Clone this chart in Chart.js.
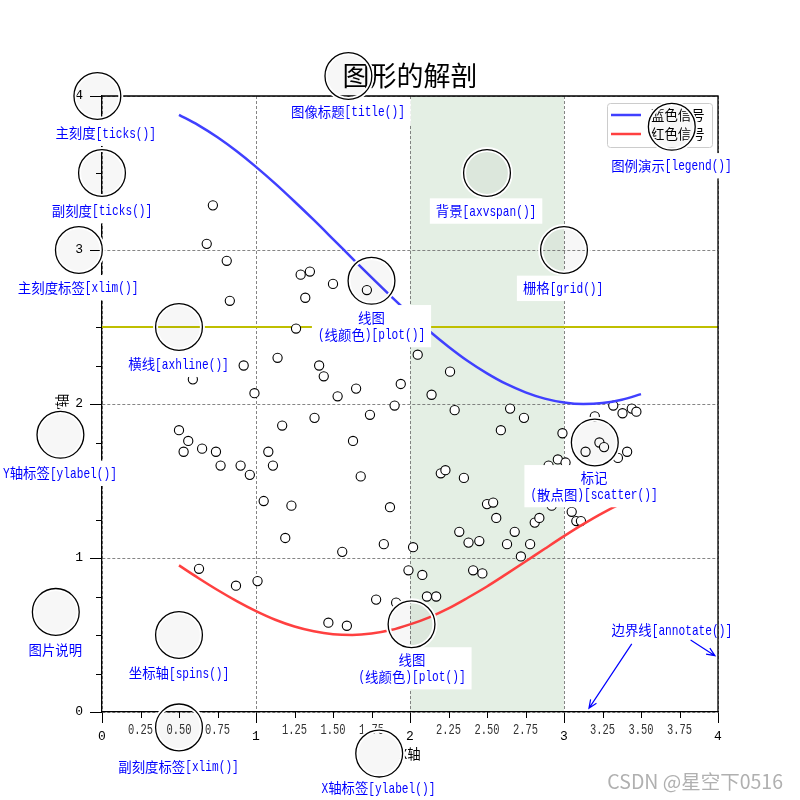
<!DOCTYPE html>
<html>
<head>
<meta charset="utf-8">
<script src="https://cdn.jsdelivr.net/npm/chart.js@4.4.1/dist/chart.umd.min.js"></script>
<style>html,body{margin:0;padding:0;background:#fff}</style>
</head>
<body>
<canvas id="myChart" width="800" height="800"></canvas>
<script>
var CJK = '"Noto Sans CJK SC"';
var MONO = '"Liberation Mono"';

// curves, every 0.125
var lineX = [0.5, 0.625, 0.75, 0.875, 1.0, 1.125, 1.25, 1.375, 1.5, 1.625, 1.75, 1.875, 2.0,
  2.125, 2.25, 2.375, 2.5, 2.625, 2.75, 2.875, 3.0, 3.125, 3.25, 3.375, 3.5];
var blueY = [3.878, 3.811, 3.732, 3.641, 3.540, 3.431, 3.315, 3.195, 3.071, 2.946, 2.822, 2.701, 2.584,
  2.474, 2.372, 2.279, 2.199, 2.130, 2.076, 2.035, 2.010, 2.000, 2.006, 2.027, 2.064];
var redY = [0.952, 0.870, 0.792, 0.720, 0.655, 0.599, 0.555, 0.524, 0.505, 0.500, 0.509, 0.532, 0.569,
  0.615, 0.673, 0.742, 0.815, 0.895, 0.977, 1.060, 1.142, 1.220, 1.292, 1.354, 1.408];

// scatter markers
var scatterX = [0.72, 0.68, 0.81, 1.29, 1.35, 1.50, 1.72, 0.83, 1.32, 1.26, 1.14, 0.92, 1.41, 1.44, 0.59, 1.65,
  0.99, 1.53, 1.90, 1.94, 1.38, 1.74, 1.17, 0.50, 0.56, 1.63, 0.53, 0.65, 0.74, 1.08, 0.77, 0.90, 1.11, 0.96,
  1.68, 1.05, 1.23, 1.87, 1.19, 1.83, 1.56, 0.63, 0.87, 1.01, 1.78, 1.91, 1.47, 1.59, 2.05, 2.26, 2.14, 2.29,
  2.65, 2.74, 2.59, 2.99, 3.32, 3.38, 3.44, 3.47, 3.20, 3.23, 3.26, 3.14, 3.35, 3.41, 2.90, 2.96, 3.01, 2.20,
  2.23, 2.35, 2.50, 2.54, 2.56, 2.92, 3.05, 3.08, 3.11, 2.81, 2.84, 2.32, 2.38, 2.45, 2.68, 2.63, 2.78, 2.72,
  2.02, 1.99, 2.08, 2.41, 2.47, 2.11, 2.17];
var scatterY = [3.29, 3.04, 2.93, 2.84, 2.86, 2.78, 2.74, 2.67, 2.69, 2.49, 2.30, 2.25, 2.25, 2.18, 2.16, 2.10,
  2.07, 2.05, 1.99, 2.13, 1.91, 1.93, 1.86, 1.83, 1.76, 1.76, 1.69, 1.71, 1.69, 1.69, 1.60, 1.60, 1.60, 1.54,
  1.53, 1.37, 1.34, 1.33, 1.13, 1.09, 1.04, 0.93, 0.82, 0.85, 0.73, 0.71, 0.58, 0.56, 2.32, 2.21, 2.06, 1.96,
  1.97, 1.91, 1.83, 1.81, 1.99, 1.94, 1.97, 1.95, 1.92, 1.75, 1.72, 1.69, 1.65, 1.69, 1.60, 1.64, 1.62, 1.55,
  1.57, 1.52, 1.35, 1.36, 1.26, 1.34, 1.30, 1.24, 1.24, 1.23, 1.26, 1.17, 1.10, 1.11, 1.17, 1.09, 1.09, 1.01,
  1.07, 0.92, 0.89, 0.92, 0.90, 0.75, 0.75];

var hlineY = 2.5;
var spanStart = 2, spanEnd = 3;

// ticks
var xMajorTicks = [0, 1, 2, 3, 4];
var xMajorLabels = ['0', '1', '2', '3', '4'];
var xMinorTicks = [0.25, 0.5, 0.75, 1.25, 1.5, 1.75, 2.25, 2.5, 2.75, 3.25, 3.5, 3.75];
var xMinorLabels = ['0.25', '0.50', '0.75', '1.25', '1.50', '1.75', '2.25', '2.50', '2.75', '3.25', '3.50', '3.75'];
var yMajorTicks = [0, 1, 2, 3, 4];
var yMajorLabels = ['0', '1', '2', '3', '4'];
var yMinorTicks = [0.25, 0.5, 0.75, 1.25, 1.5, 1.75, 2.25, 2.5, 2.75, 3.25, 3.5, 3.75];

// annotation circles and texts, in data units
var circles = [[-0.03, 4.0], [0.0, 3.5], [-0.15, 3.0], [0.5, 2.5], [-0.27, 1.8], [-0.3, 0.65],
  [0.5, 0.5], [0.5, -0.1], [1.8, -0.27], [1.6, 4.13], [1.75, 2.8], [2.01, 0.57],
  [2.5, 3.5], [3.0, 3.0], [3.7, 3.8], [3.2, 1.75]];
var labels = [
  {x: 0.024, y: 3.758, t: ['主刻度[ticks()]']},
  {x: 0.0, y: 3.255, t: ['副刻度[ticks()]']},
  {x: -0.155, y: 2.755, t: ['主刻度标签[xlim()]']},
  {x: 0.497, y: 2.258, t: ['横线[axhline()]']},
  {x: -0.273, y: 1.55, t: ['Y轴标签[ylabel()]']},
  {x: -0.303, y: 0.403, t: ['图片说明']},
  {x: 0.5, y: 0.251, t: ['坐标轴[spins()]']},
  {x: 0.497, y: -0.355, t: ['副刻度标签[xlim()]']},
  {x: 1.795, y: -0.494, t: ['X轴标签[ylabel()]']},
  {x: 1.597, y: 3.898, t: ['图像标题[title()]']},
  {x: 1.75, y: 2.56, t: ['线图', '(线颜色)[plot()]']},
  {x: 2.013, y: 0.338, t: ['线图', '(线颜色)[plot()]']},
  {x: 2.494, y: 3.253, t: ['背景[axvspan()]']},
  {x: 2.994, y: 2.751, t: ['栅格[grid()]']},
  {x: 3.698, y: 3.547, t: ['图例演示[legend()]']},
  {x: 3.195, y: 1.521, t: ['标记', '(散点图)[scatter()]']}
];
var annotText = {x: 3.70, y: 0.532, t: '边界线[annotate()]'};
var arrows = [[[3.44, 0.442], [3.162, 0.024]], [[3.822, 0.468], [3.98, 0.366]]];

function charW(ctx, ch, size) {
  if (ch.charCodeAt(0) < 128) return size * 0.5;
  ctx.font = size + 'px ' + CJK;
  return ctx.measureText(ch).width;
}
function mixedWidth(ctx, text, size) {
  var w = 0;
  for (var ch of text) w += charW(ctx, ch, size);
  return w;
}
// SimHei-like: half width ascii, full width CJK
function drawMixed(ctx, text, cx, cy, size, color) {
  var x = cx - mixedWidth(ctx, text, size) / 2;
  var asz = size * 1.12;
  ctx.fillStyle = color;
  ctx.textBaseline = 'middle';
  ctx.textAlign = 'left';
  for (var ch of text) {
    var w = charW(ctx, ch, size);
    if (ch.charCodeAt(0) < 128) {
      ctx.save();
      ctx.translate(x + w / 2, cy + 0.5);
      ctx.scale(w / (0.6 * asz), 1);
      ctx.font = asz + 'px ' + MONO;
      ctx.textAlign = 'center';
      ctx.fillText(ch, 0, 0);
      ctx.restore();
    } else {
      ctx.font = size + 'px ' + CJK;
      ctx.fillText(ch, x, cy);
    }
    x += w;
  }
}

var anatomy = {
  id: 'anatomy',
  beforeDraw: function (chart) {
    var c = chart.ctx, a = chart.chartArea, xs = chart.scales.x;
    c.save();
    c.fillStyle = '#fff';
    c.fillRect(0, 0, chart.width, chart.height);
    var x1 = xs.getPixelForValue(spanStart), x2 = xs.getPixelForValue(spanEnd);
    c.fillStyle = '#e4efe4';
    c.fillRect(x1, a.top, x2 - x1, a.bottom - a.top);
    c.restore();
  },
  afterDatasetsDraw: function (chart) {
    var c = chart.ctx, a = chart.chartArea, xs = chart.scales.x, ys = chart.scales.y;
    c.save();
    c.strokeStyle = '#000';
    c.lineWidth = 1.3;
    c.beginPath();
    c.moveTo(a.left, a.top); c.lineTo(a.right, a.top); c.lineTo(a.right, a.bottom);
    c.stroke();
    // minor ticks
    c.lineWidth = 1;
    c.beginPath();
    xMinorTicks.forEach(function (v) {
      var px = Math.round(xs.getPixelForValue(v)) + 0.5;
      c.moveTo(px, a.bottom); c.lineTo(px, a.bottom + 6);
    });
    yMinorTicks.forEach(function (v) {
      var py = Math.round(ys.getPixelForValue(v)) + 0.5;
      c.moveTo(a.left, py); c.lineTo(a.left - 6, py);
    });
    c.stroke();
    xMinorTicks.forEach(function (v, i) {
      drawMixed(c, xMinorLabels[i], xs.getPixelForValue(v), a.bottom + 17.5, 12.5, '#333');
    });
    // legend
    var bw = 105, bh = 44, bx = a.right - 6 - bw, by = a.top + 7;
    c.fillStyle = 'rgba(255,255,255,0.85)';
    c.strokeStyle = '#cccccc';
    c.lineWidth = 1;
    c.beginPath();
    c.roundRect(bx + 0.5, by + 0.5, bw, bh, 3);
    c.fill(); c.stroke();
    chart.data.datasets.slice(0, 2).forEach(function (ds, i) {
      var ly = by + 12 + i * 19;
      c.strokeStyle = ds.borderColor;
      c.lineWidth = 2.5;
      c.beginPath(); c.moveTo(bx + 4, ly); c.lineTo(bx + 34, ly); c.stroke();
      c.fillStyle = '#000';
      c.font = '13.4px ' + CJK;
      c.textAlign = 'left';
      c.textBaseline = 'middle';
      c.fillText(ds.label, bx + 44, ly);
    });
    c.restore();
  },
  afterDraw: function (chart) {
    var c = chart.ctx, xs = chart.scales.x, ys = chart.scales.y;
    var size = 13.4, gap = 16.8, pad = 6;
    c.save();
    labels.forEach(function (l) {
      var cx = xs.getPixelForValue(l.x), cy = ys.getPixelForValue(l.y);
      var w = 0;
      l.t.forEach(function (s) { w = Math.max(w, mixedWidth(c, s, size)); });
      var top = cy - size / 2 - pad, bottom = cy + (l.t.length - 1) * gap + size / 2 + pad;
      c.fillStyle = '#fff';
      c.fillRect(cx - w / 2 - pad, top, w + 2 * pad, bottom - top);
      l.t.forEach(function (s, i) { drawMixed(c, s, cx, cy + i * gap, size, '#0000ff'); });
    });
    var r = xs.getPixelForValue(0.152) - xs.getPixelForValue(0);
    circles.forEach(function (p) {
      var px = xs.getPixelForValue(p[0]), py = ys.getPixelForValue(p[1]);
      c.beginPath();
      c.arc(px, py, r, 0, Math.PI * 2);
      c.fillStyle = 'rgba(0,0,0,0.03)';
      c.fill();
      c.strokeStyle = '#fff'; c.lineWidth = 5; c.stroke();
      c.strokeStyle = '#000'; c.lineWidth = 1.3; c.stroke();
    });
    drawMixed(c, annotText.t, xs.getPixelForValue(annotText.x), ys.getPixelForValue(annotText.y), size, '#0000ff');
    c.strokeStyle = '#0000ff';
    c.lineWidth = 1.2;
    arrows.forEach(function (ar) {
      var x1 = xs.getPixelForValue(ar[0][0]), y1 = ys.getPixelForValue(ar[0][1]);
      var x2 = xs.getPixelForValue(ar[1][0]), y2 = ys.getPixelForValue(ar[1][1]);
      var ang = Math.atan2(y2 - y1, x2 - x1), h = 9;
      c.beginPath();
      c.moveTo(x1, y1); c.lineTo(x2, y2);
      c.moveTo(x2 - h * Math.cos(ang - 0.4), y2 - h * Math.sin(ang - 0.4));
      c.lineTo(x2, y2);
      c.lineTo(x2 - h * Math.cos(ang + 0.4), y2 - h * Math.sin(ang + 0.4));
      c.stroke();
    });
    c.font = '19.5px ' + CJK;
    c.fillStyle = '#b0b0b0';
    c.textAlign = 'right';
    c.textBaseline = 'middle';
    c.fillText('CSDN @星空下0516', chart.width - 17, chart.height - 18);
    c.restore();
  }
};

var ctx = document.getElementById('myChart').getContext('2d');

var myChart = new Chart(ctx, {
  type: 'scatter',
  data: {
    datasets: [{
      type: 'line',
      label: '蓝色信号',
      data: lineX.map(function (x, i) { return {x: x, y: blueY[i]}; }),
      borderColor: 'rgb(64,64,255)',
      borderWidth: 2.5,
      pointRadius: 0,
      tension: 0.4,
      cubicInterpolationMode: 'monotone',
      fill: false,
      order: 0
    }, {
      type: 'line',
      label: '红色信号',
      data: lineX.map(function (x, i) { return {x: x, y: redY[i]}; }),
      borderColor: 'rgb(255,64,64)',
      borderWidth: 2.5,
      pointRadius: 0,
      tension: 0.4,
      cubicInterpolationMode: 'monotone',
      fill: false,
      order: 0
    }, {
      label: '散点',
      data: scatterX.map(function (x, i) { return {x: x, y: scatterY[i]}; }),
      backgroundColor: '#fff',
      borderColor: '#000',
      borderWidth: 1.1,
      pointRadius: 4.6,
      order: 1
    }, {
      type: 'line',
      label: '横线',
      data: [{x: 0, y: hlineY}, {x: 4, y: hlineY}],
      borderColor: '#bfbf00',
      borderWidth: 2,
      pointRadius: 0,
      fill: false,
      order: 2
    }]
  },
  options: {
    responsive: false,
    animation: false,
    devicePixelRatio: 1,
    events: [],
    layout: {padding: {left: 0, top: 0, right: 82, bottom: 0}},
    plugins: {
      legend: {display: false},
      tooltip: {enabled: false},
      title: {
        display: true,
        text: '图形的解剖',
        fullSize: false,
        color: '#000',
        font: {family: CJK, size: 27, weight: 'normal'},
        padding: {top: 60, bottom: 3.6}
      }
    },
    scales: {
      x: {
        type: 'linear',
        min: 0,
        max: 4,
        afterFit: function (s) { s.height = 88; },
        afterBuildTicks: function (s) { s.ticks = xMajorTicks.map(function (v) { return {value: v}; }); },
        ticks: {
          padding: 5.5,
          color: '#000',
          maxRotation: 0,
          autoSkip: false,
          font: {family: MONO, size: 13},
          callback: function (v) { return xMajorLabels[xMajorTicks.indexOf(v)]; }
        },
        grid: {color: '#666', lineWidth: 0.8, tickLength: 11, tickColor: '#000', tickWidth: 1, tickBorderDash: []},
        border: {display: true, color: '#000', width: 1.3, dash: [3, 2]},
        title: {display: true, text: 'X轴', color: '#000', font: {family: CJK, size: 13.4}, padding: {top: 0, bottom: 38}}
      },
      y: {
        type: 'linear',
        min: 0,
        max: 4,
        afterFit: function (s) { s.width = 102; },
        afterBuildTicks: function (s) { s.ticks = yMajorTicks.map(function (v) { return {value: v}; }); },
        ticks: {
          padding: 7,
          color: '#000',
          font: {family: MONO, size: 13},
          callback: function (v) { return yMajorLabels[yMajorTicks.indexOf(v)]; }
        },
        grid: {color: '#666', lineWidth: 0.8, tickLength: 12, tickColor: '#000', tickWidth: 1, tickBorderDash: []},
        border: {display: true, color: '#000', width: 1.3, dash: [3, 2]},
        title: {display: true, text: 'Y轴', color: '#000', font: {family: CJK, size: 13.4}, padding: {top: 54, bottom: 0}}
      }
    }
  },
  plugins: [anatomy]
});
</script>
</body>
</html>
